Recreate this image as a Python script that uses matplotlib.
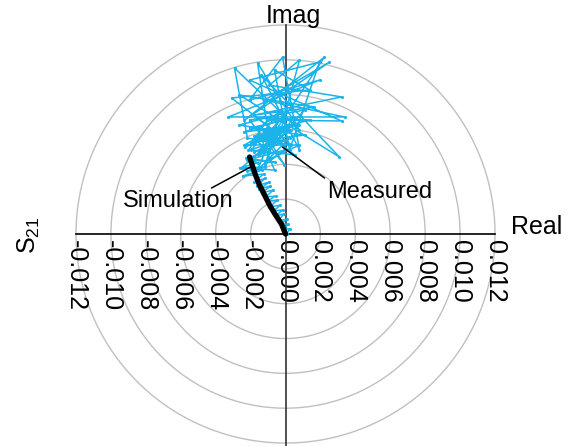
import numpy as np
import matplotlib
matplotlib.use("Agg")
import matplotlib.pyplot as plt

plt.rcParams['font.family'] = ['Liberation Sans', 'DejaVu Sans']
plt.rcParams['mathtext.fontset'] = 'custom'
plt.rcParams['mathtext.rm'] = 'Liberation Sans'
plt.rcParams['mathtext.it'] = 'Liberation Sans'

# ---- data (units of 1e-3) ----
sim_re = [0.00, -0.23, -0.57, -0.92, -1.20, -1.49, -1.72, -1.89, -2.06]
sim_im = [0.00, 0.57, 1.09, 1.67, 2.24, 2.81, 3.39, 3.90, 4.42]

meas_re = [0.06, 0.23, -0.11, 0.17, -0.23, 0.06, -0.40, -0.11, -0.57, -0.17,
           -0.69, -0.29, -0.92, -0.46, -1.03, -0.57, -1.15, -0.69, -1.37, -0.86,
           -1.49, -0.92, -1.66, -1.15, -1.78, -1.26, -2.46, -1.37, -2.18, -1.20,
           -2.63, -1.60, -2.06, -0.63, -2.29, -0.92,
           -1.20, -0.06, -2.18, 0.23, -1.60, -0.63, -2.35, 0.80, -1.03, -0.34,
           -1.95, 0.52, -1.38, -0.06, -2.06, 1.09, -0.92, -1.78, 0.23, -2.52,
           -0.63, -1.49,
           -2.12, -0.06, -1.95, 0.23, -1.78, 0.80, -2.35, -0.34, -1.49, 0.52,
           -2.06, 1.09, -1.38, 0.11, -2.64, -0.92, 1.38, -1.60, 0.34, -2.18,
           -2.92, 0.80, -1.60, -0.92, 2.23, -2.35, 2.52, -1.20, 3.38, -3.27,
           1.95, -2.06, -0.17, 0.80, -1.38, 3.09, -2.64, 1.66, -1.78, 3.21,
           -0.92, 0.80, -0.34, -3.09, 1.38, -0.63, 0.23, 1.95, -2.06, 3.21,
           -1.03, -1.95, 0.30, -1.60, -0.60, -2.30, 0.00, -1.40, -0.40, -1.80]
meas_im = [0.00, 0.29, 0.29, 0.57, 0.57, 0.86, 0.75, 1.15, 1.03, 1.38,
           1.32, 1.66, 1.55, 1.95, 1.89, 2.18, 2.12, 2.53, 2.35, 2.76,
           2.58, 2.99, 2.76, 3.21, 2.99, 3.44, 3.33, 3.67, 3.62, 3.85,
           3.79, 4.08, 4.25, 4.13, 4.36, 4.71,
           3.96, 4.82, 4.25, 5.51, 3.67, 6.09, 5.11, 5.11, 4.25, 7.12,
           4.82, 4.54, 6.09, 3.96, 6.54, 7.12, 4.82, 5.40, 6.26, 3.79,
           3.67, 5.74,
           4.82, 5.40, 5.28, 5.97, 5.63, 6.26, 5.86, 6.54, 4.54, 6.66,
           6.09, 5.68, 5.40, 7.00, 6.26, 5.97, 6.54, 6.66, 5.11, 5.51,
           9.53, 5.97, 9.82, 5.40, 10.16, 6.54, 9.87, 7.69, 6.72, 6.72,
           8.84, 7.69, 10.16, 4.82, 9.13, 4.42, 7.98, 7.29, 6.83, 7.87,
           8.55, 9.99, 5.68, 7.81, 8.27, 9.42, 4.82, 9.87, 8.84, 6.49,
           6.54, 5.20, 6.00, 4.60, 5.70, 5.00, 6.20, 4.90, 5.40, 4.70]

tick_vals = [-12, -10, -8, -6, -4, -2, 0, 2, 4, 6, 8, 10, 12]
ring_radii = [2, 4, 6, 8, 10, 12]
scale = 1e-3

W, H = 576, 446
fig = plt.figure(figsize=(W / 100, H / 100), dpi=100)
ax = fig.add_axes([76 / W, 0, 419 / W, (H - 25) / H])
ax.set_xlim(-0.012, 0.012)
ax.set_ylim(-0.01217, 0.012)
ax.patch.set_visible(False)

# rings
t = np.linspace(0, 2 * np.pi, 721)
for r in ring_radii:
    ax.plot(r * scale * np.cos(t), r * scale * np.sin(t), color='#c0c0c0',
            lw=1.0, zorder=1, clip_on=False)

# axes through origin
for s in ['top', 'right']:
    ax.spines[s].set_visible(False)
ax.spines['bottom'].set_position('zero')
ax.spines['left'].set_position('zero')
ax.spines['bottom'].set_color('black')
ax.spines['left'].set_color('#333333')
ax.spines['bottom'].set_linewidth(1.2)
ax.spines['left'].set_linewidth(1.2)
ax.set_yticks([])
ax.set_xticks([v * scale for v in tick_vals])
ax.set_xticklabels([('%.3f' % (v * scale)) for v in tick_vals], rotation=-90,
                   fontsize=18)
ax.tick_params(axis='x', length=0, pad=4)

mx = np.array(meas_re) * scale
my = np.array(meas_im) * scale
ax.plot(mx, my, color='#1ab4ea', lw=1.1, marker='.', ms=2.5, zorder=3)

sx = np.array(sim_re) * scale
sy = np.array(sim_im) * scale
ax.plot(sx, sy, color='black', lw=3.8, solid_capstyle='round', zorder=4)

def d(px, py):
    return ((px - 286) / 17458.0, (234 - py) / 17418.0)

ax.annotate('', xy=d(251, 167), xytext=d(212, 188),
            arrowprops=dict(arrowstyle='-', color='black', lw=1.1,
                            shrinkA=0, shrinkB=0))
ax.annotate('', xy=d(283, 147), xytext=d(325, 178),
            arrowprops=dict(arrowstyle='-', color='black', lw=1.1,
                            shrinkA=0, shrinkB=0))

def ft(px, py, s, **kw):
    fig.text(px / W, 1 - py / H, s, **kw)

ft(123, 207, 'Simulation', fontsize=17, ha='left', va='baseline')
ft(327, 198, 'Measured', fontsize=17, ha='left', va='baseline')
ft(511, 234, 'Real', fontsize=18, ha='left', va='baseline')
ft(293, 23, 'Imag', fontsize=18, ha='center', va='baseline')
ft(29, 235, r'S$_{21}$', fontsize=18, ha='center', va='center', rotation=90)

fig.savefig('out.png', dpi=100)
